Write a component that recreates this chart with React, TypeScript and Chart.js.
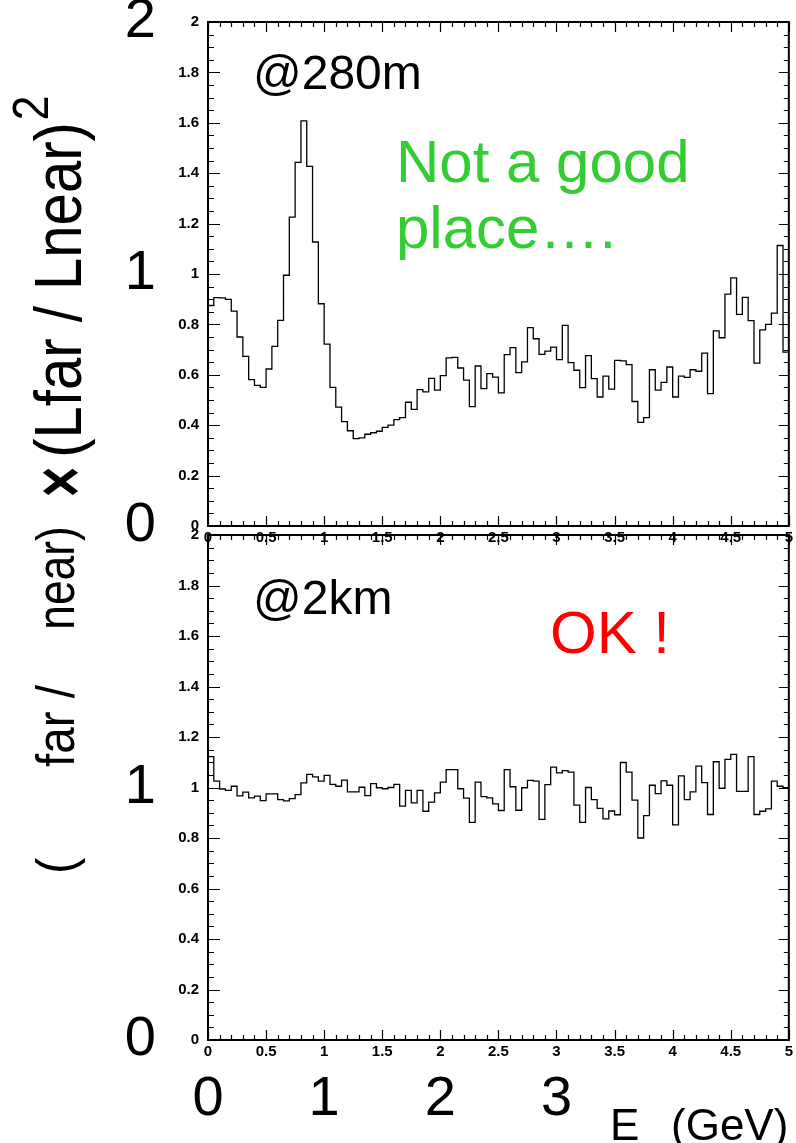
import React, { useEffect, useRef } from "react";
import { Chart, registerables } from "chart.js";

Chart.register(...registerables);

// ---------------- data ----------------
const BIN_WIDTH = 0.05; // GeV
const X_MIN = 0;
const X_MAX = 5;
const Y_MIN = 0;
const Y_MAX = 2;

// (Phi_far / Phi_near) x (L_far / L_near)^2, detector @280m, 100 bins of 0.05 GeV
const ratio280m = [
  0.875, 0.906, 0.905, 0.899, 0.853, 0.750, 0.673, 0.581, 0.558, 0.550,
  0.623, 0.713, 0.816, 0.995, 1.226, 1.443, 1.608, 1.427, 1.127, 0.882,
  0.722, 0.550, 0.472, 0.414, 0.378, 0.347, 0.350, 0.364, 0.370, 0.376,
  0.391, 0.400, 0.422, 0.430, 0.491, 0.463, 0.541, 0.532, 0.586, 0.539,
  0.597, 0.667, 0.669, 0.627, 0.579, 0.474, 0.635, 0.545, 0.605, 0.591,
  0.528, 0.680, 0.708, 0.609, 0.651, 0.787, 0.743, 0.681, 0.694, 0.710,
  0.660, 0.796, 0.648, 0.618, 0.549, 0.676, 0.585, 0.512, 0.595, 0.543,
  0.657, 0.655, 0.640, 0.494, 0.411, 0.430, 0.620, 0.539, 0.570, 0.631,
  0.512, 0.595, 0.590, 0.620, 0.614, 0.686, 0.525, 0.774, 0.747, 0.920,
  0.985, 0.840, 0.907, 0.815, 0.646, 0.778, 0.800, 0.845, 1.113, 0.690,
];

// same ratio, detector @2km
const ratio2km = [
  1.122, 1.025, 0.994, 0.989, 1.005, 0.967, 0.982, 0.959, 0.966, 0.948,
  0.975, 0.975, 0.952, 0.947, 0.956, 0.972, 1.018, 1.052, 1.042, 1.025,
  1.048, 1.012, 1.005, 1.029, 0.983, 0.983, 1.001, 0.968, 1.015, 0.999,
  0.995, 1.000, 1.012, 0.926, 0.989, 0.939, 0.989, 0.906, 0.942, 0.979,
  1.021, 1.071, 1.071, 0.995, 0.958, 0.862, 1.021, 0.964, 0.959, 0.935,
  0.909, 1.071, 1.003, 0.910, 0.999, 1.028, 1.025, 0.874, 1.011, 1.081,
  1.058, 1.067, 1.061, 0.930, 0.862, 1.000, 0.952, 0.917, 0.876, 0.907,
  0.892, 1.099, 1.061, 0.950, 0.800, 0.889, 1.009, 0.976, 1.026, 1.009,
  0.852, 1.046, 0.952, 0.983, 1.085, 1.019, 0.893, 1.102, 0.997, 1.111,
  1.131, 0.985, 0.985, 1.122, 0.893, 0.906, 0.915, 1.025, 1.005, 0.999,
];

const X_TICK_STEP = 0.5;
const X_MINOR_STEP = 0.1;
const Y_TICK_STEP = 0.2;
const Y_MINOR_STEP = 0.05;

const bigYLabelsTop = [2, 1, 0];
const bigYLabelsBottom = [1, 0];
const bigXLabels = [0, 1, 2, 3];

// ---------------- layout / style ----------------
const W = 796;
const H = 1143;
const FONT = '"Liberation Sans", Arial, Helvetica, sans-serif';
const PLOT_LEFT = 208;
const PLOT_RIGHT = 791;
const TOP_PANEL = { top: 22, bottom: 526 };
const BOTTOM_PANEL = { top: 535, bottom: 1040 };
const GREEN = "#33cc33";
const RED = "#ff0000";

const fmt = (v: number) => String(Math.round(v * 100) / 100);

function histPoints(values: number[]) {
  const pts = values.map((v, i) => ({ x: X_MIN + i * BIN_WIDTH, y: v }));
  pts.push({ x: X_MIN + values.length * BIN_WIDTH, y: values[values.length - 1] });
  return pts;
}

type TextItem = {
  text: string;
  x?: number;
  y?: number;
  xValue?: number;
  yValue?: number;
  size: number;
  weight?: string;
  color?: string;
  align?: CanvasTextAlign;
  baseline?: CanvasTextBaseline;
  rotate?: number;
  scaleX?: number;
};

const framePlugin = {
  id: "rootFrame",
  afterDatasetsDraw(chart: any) {
    const { ctx, chartArea: a } = chart;
    const xs = chart.scales.x;
    const ys = chart.scales.y;
    ctx.save();
    ctx.strokeStyle = "#000";
    ctx.lineWidth = 1.2;
    ctx.beginPath();
    const ny = Math.round((Y_MAX - Y_MIN) / Y_MINOR_STEP);
    const perMajorY = Math.round(Y_TICK_STEP / Y_MINOR_STEP);
    for (let i = 0; i <= ny; i++) {
      const py = Math.round(ys.getPixelForValue(Y_MIN + i * Y_MINOR_STEP)) + 0.5;
      const major = i % perMajorY === 0;
      ctx.moveTo(a.left, py);
      ctx.lineTo(a.left + (major ? 12 : 6), py);
      ctx.moveTo(a.right, py);
      ctx.lineTo(a.right - (major ? 10 : 5), py);
    }
    const nx = Math.round((X_MAX - X_MIN) / X_MINOR_STEP);
    const perMajorX = Math.round(X_TICK_STEP / X_MINOR_STEP);
    for (let i = 0; i <= nx; i++) {
      const px = Math.round(xs.getPixelForValue(X_MIN + i * X_MINOR_STEP)) + 0.5;
      const major = i % perMajorX === 0;
      ctx.moveTo(px, a.bottom);
      ctx.lineTo(px, a.bottom - (major ? 10 : 5));
      ctx.moveTo(px, a.top);
      ctx.lineTo(px, a.top + (major ? 10 : 5));
    }
    ctx.stroke();
    ctx.lineWidth = 2;
    ctx.strokeRect(a.left, a.top, a.right - a.left, a.bottom - a.top);
    ctx.restore();
  },
};

function makeOverlay(items: TextItem[]) {
  return {
    id: "overlayText",
    afterDraw(chart: any) {
      const { ctx } = chart;
      for (const it of items) {
        ctx.save();
        ctx.fillStyle = it.color || "#000";
        ctx.font = `${it.weight || "normal"} ${it.size}px ${FONT}`;
        ctx.textAlign = it.align || "left";
        ctx.textBaseline = it.baseline || "alphabetic";
        let x = it.x ?? 0;
        let y = it.y ?? 0;
        if (it.xValue !== undefined) x = chart.scales.x.getPixelForValue(it.xValue);
        if (it.yValue !== undefined) y = chart.scales.y.getPixelForValue(it.yValue);
        ctx.translate(x, y);
        if (it.rotate) ctx.rotate(it.rotate);
        if (it.scaleX) ctx.scale(it.scaleX, 1);
        ctx.fillText(it.text, 0, 0);
        ctx.restore();
      }
    },
  };
}

const ROT = -Math.PI / 2;

const topItems: TextItem[] = [
  { text: "@280m", x: 253, y: 89, size: 48 },
  { text: "Not a good", x: 396, y: 182, size: 60, color: GREEN },
  { text: "place\u2026.", x: 396, y: 248, size: 60, color: GREEN },
  ...bigYLabelsTop.map((v) => ({
    text: String(v), x: 156, yValue: v, size: 56, align: "right" as CanvasTextAlign, baseline: "middle" as CanvasTextBaseline,
  })),
];

const bottomItems: TextItem[] = [
  { text: "@2km", x: 253, y: 614, size: 48 },
  { text: "OK !", x: 550, y: 653, size: 60, color: RED },
  ...bigYLabelsBottom.map((v) => ({
    text: String(v), x: 156, yValue: v, size: 56, align: "right" as CanvasTextAlign, baseline: "middle" as CanvasTextBaseline,
  })),
  ...bigXLabels.map((v) => ({
    text: String(v), xValue: v, y: 1100, size: 56, align: "center" as CanvasTextAlign, baseline: "middle" as CanvasTextBaseline,
  })),
  { text: "E", x: 610, y: 1140, size: 44 },
  { text: "(GeV)", x: 671, y: 1140, size: 44 },
  // rotated y-axis title
  { text: "(", x: 74, y: 866, size: 54, rotate: ROT, align: "center", scaleX: 0.9 },
  { text: "far /", x: 74, y: 726, size: 54, rotate: ROT, align: "center", scaleX: 0.88 },
  { text: "near)", x: 74, y: 578, size: 54, rotate: ROT, align: "center", scaleX: 0.82 },
  { text: "\u00d7", x: 84, y: 482, size: 70, weight: "bold", rotate: ROT, align: "center", scaleX: 0.75 },
  { text: "(Lfar / Lnear)", x: 81, y: 290, size: 66, rotate: ROT, align: "center", scaleX: 0.88 },
  { text: "2", x: 48, y: 108, size: 50, rotate: ROT, align: "center", scaleX: 0.9 },
];

function makeConfig(values: number[], panel: { top: number; bottom: number }, items: TextItem[]): any {
  const tickFont = { family: FONT, size: 15, weight: "bold" };
  return {
    type: "line",
    data: {
      datasets: [
        {
          data: histPoints(values),
          stepped: "before",
          borderColor: "#000",
          borderWidth: 1.3,
          pointRadius: 0,
          fill: false,
        },
      ],
    },
    options: {
      animation: false,
      responsive: false,
      maintainAspectRatio: false,
      devicePixelRatio: 1,
      events: [],
      layout: { padding: { top: panel.top, right: W - PLOT_RIGHT, left: 0, bottom: 0 } },
      plugins: { legend: { display: false }, tooltip: { enabled: false }, title: { display: false } },
      scales: {
        x: {
          type: "linear",
          min: X_MIN,
          max: X_MAX,
          position: "bottom",
          grid: { display: false, drawTicks: false },
          border: { display: false },
          ticks: {
            stepSize: X_TICK_STEP,
            autoSkip: false,
            maxRotation: 0,
            padding: 3,
            color: "#000",
            font: tickFont,
            callback: (v: number) => fmt(v),
          },
          afterFit: (s: any) => {
            s.height = H - panel.bottom;
          },
        },
        y: {
          type: "linear",
          min: Y_MIN,
          max: Y_MAX,
          grid: { display: false, drawTicks: false },
          border: { display: false },
          ticks: {
            stepSize: Y_TICK_STEP,
            padding: 9,
            color: "#000",
            font: tickFont,
            callback: (v: number) => fmt(v),
          },
          afterFit: (s: any) => {
            s.width = PLOT_LEFT;
          },
        },
      },
    },
    plugins: [framePlugin, makeOverlay(items)],
  };
}

function App() {
  const topRef = useRef<HTMLCanvasElement | null>(null);
  const bottomRef = useRef<HTMLCanvasElement | null>(null);

  useEffect(() => {
    const charts: Chart[] = [];
    if (topRef.current) charts.push(new Chart(topRef.current, makeConfig(ratio280m, TOP_PANEL, topItems)));
    if (bottomRef.current) charts.push(new Chart(bottomRef.current, makeConfig(ratio2km, BOTTOM_PANEL, bottomItems)));
    return () => charts.forEach((c) => c.destroy());
  }, []);

  const canvasStyle: React.CSSProperties = { position: "absolute", left: 0, top: 0, width: W, height: H };
  return (
    <div style={{ position: "absolute", left: 0, top: 0, width: W, height: H, background: "#fff", overflow: "hidden" }}>
      <canvas ref={topRef} width={W} height={H} style={canvasStyle} />
      <canvas ref={bottomRef} width={W} height={H} style={canvasStyle} />
    </div>
  );
}

export default App;
